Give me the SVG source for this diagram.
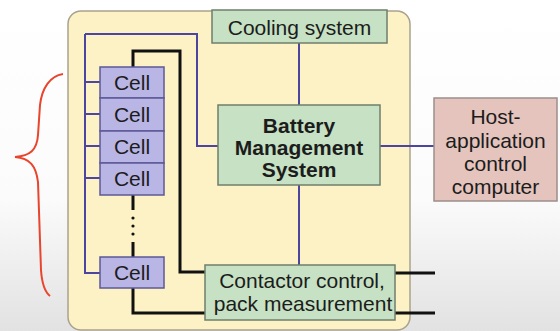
<svg xmlns="http://www.w3.org/2000/svg" width="560" height="331" viewBox="0 0 560 331">
<defs>
<linearGradient id="bg" x1="0" y1="0" x2="0" y2="1">
<stop offset="0" stop-color="#ffffff"/>
<stop offset="0.6" stop-color="#fbfbfb"/>
<stop offset="1" stop-color="#e2e2e2"/>
</linearGradient>
<style>
text{font-family:"Liberation Sans",Arial,sans-serif;font-size:21px;fill:#1c1c1c;text-anchor:middle}
.b{font-weight:bold;font-size:21px}
.green{fill:#c6e1c3;stroke:#6f7f6b;stroke-width:1.5}
.cell{fill:#b9b6e5;stroke:#5c5896;stroke-width:1.5}
.host{fill:#e4c4bc;stroke:#9b8f8c;stroke-width:1.5}
.pw{fill:none;stroke:#4c46a0;stroke-width:2}
.bw{fill:none;stroke:#111;stroke-width:3}
</style>
</defs>
<rect x="0" y="0" width="560" height="331" fill="url(#bg)"/>
<rect id="panel" x="68" y="11" width="342" height="319" rx="13" fill="#fcf2c6" stroke="#a9a28c" stroke-width="1.5"/>
<path id="brace" d="M63,74 C50,76 42,88 40,105 L38,135 C37,150 30,156 15,157 C30,158 36,166 38,182 L41,270 C42,285 45,292 50,296" fill="none" stroke="#e8452c" stroke-width="2"/>
<g id="connectors">
<path class="pw" d="M85,34 V273 H100 M85,34 H197 V146 H218 M85,82 H100 M85,114 H100 M85,146 H100 M85,178 H100"/>
<path class="pw" d="M299,43 V105 M299,185 V265 M380,146 H434"/>
<path class="bw" d="M133,67 V51 H180 V272 H205 M133,288 V313 H205 M395,273 H435 M395,313 H435"/>
<path class="bw" d="M133,195 V210 M133,242 V257"/>
<g fill="#111"><circle cx="133" cy="218" r="1.6"/><circle cx="133" cy="226" r="1.6"/><circle cx="133" cy="234" r="1.6"/></g>
</g>
<g id="cooling"><rect class="green" x="212" y="10" width="175" height="33"/><text x="299.5" y="35">Cooling system</text></g>
<g id="cell1"><rect class="cell" x="100" y="67" width="64" height="31"/><text x="132" y="90">Cell</text></g>
<g id="cell2"><rect class="cell" x="100" y="98" width="64" height="33"/><text x="132" y="122">Cell</text></g>
<g id="cell3"><rect class="cell" x="100" y="131" width="64" height="32"/><text x="132" y="154">Cell</text></g>
<g id="cell4"><rect class="cell" x="100" y="163" width="64" height="32"/><text x="132" y="186">Cell</text></g>
<g id="cell5"><rect class="cell" x="100" y="257" width="64" height="31"/><text x="132" y="280">Cell</text></g>
<g id="bms"><rect class="green" x="218" y="105" width="162" height="80"/>
<text class="b" x="299" y="133">Battery</text><text class="b" x="299" y="155">Management</text><text class="b" x="299" y="177">System</text></g>
<g id="contactor"><rect class="green" x="205" y="265" width="190" height="55"/>
<text x="302" y="288">Contactor control,</text><text x="303" y="311">pack measurement</text></g>
<g id="host"><rect class="host" x="434" y="98" width="123" height="103"/>
<text x="495.5" y="124">Host-</text><text x="495.5" y="148">application</text><text x="495.5" y="171">control</text><text x="495.5" y="194">computer</text></g>
</svg>
